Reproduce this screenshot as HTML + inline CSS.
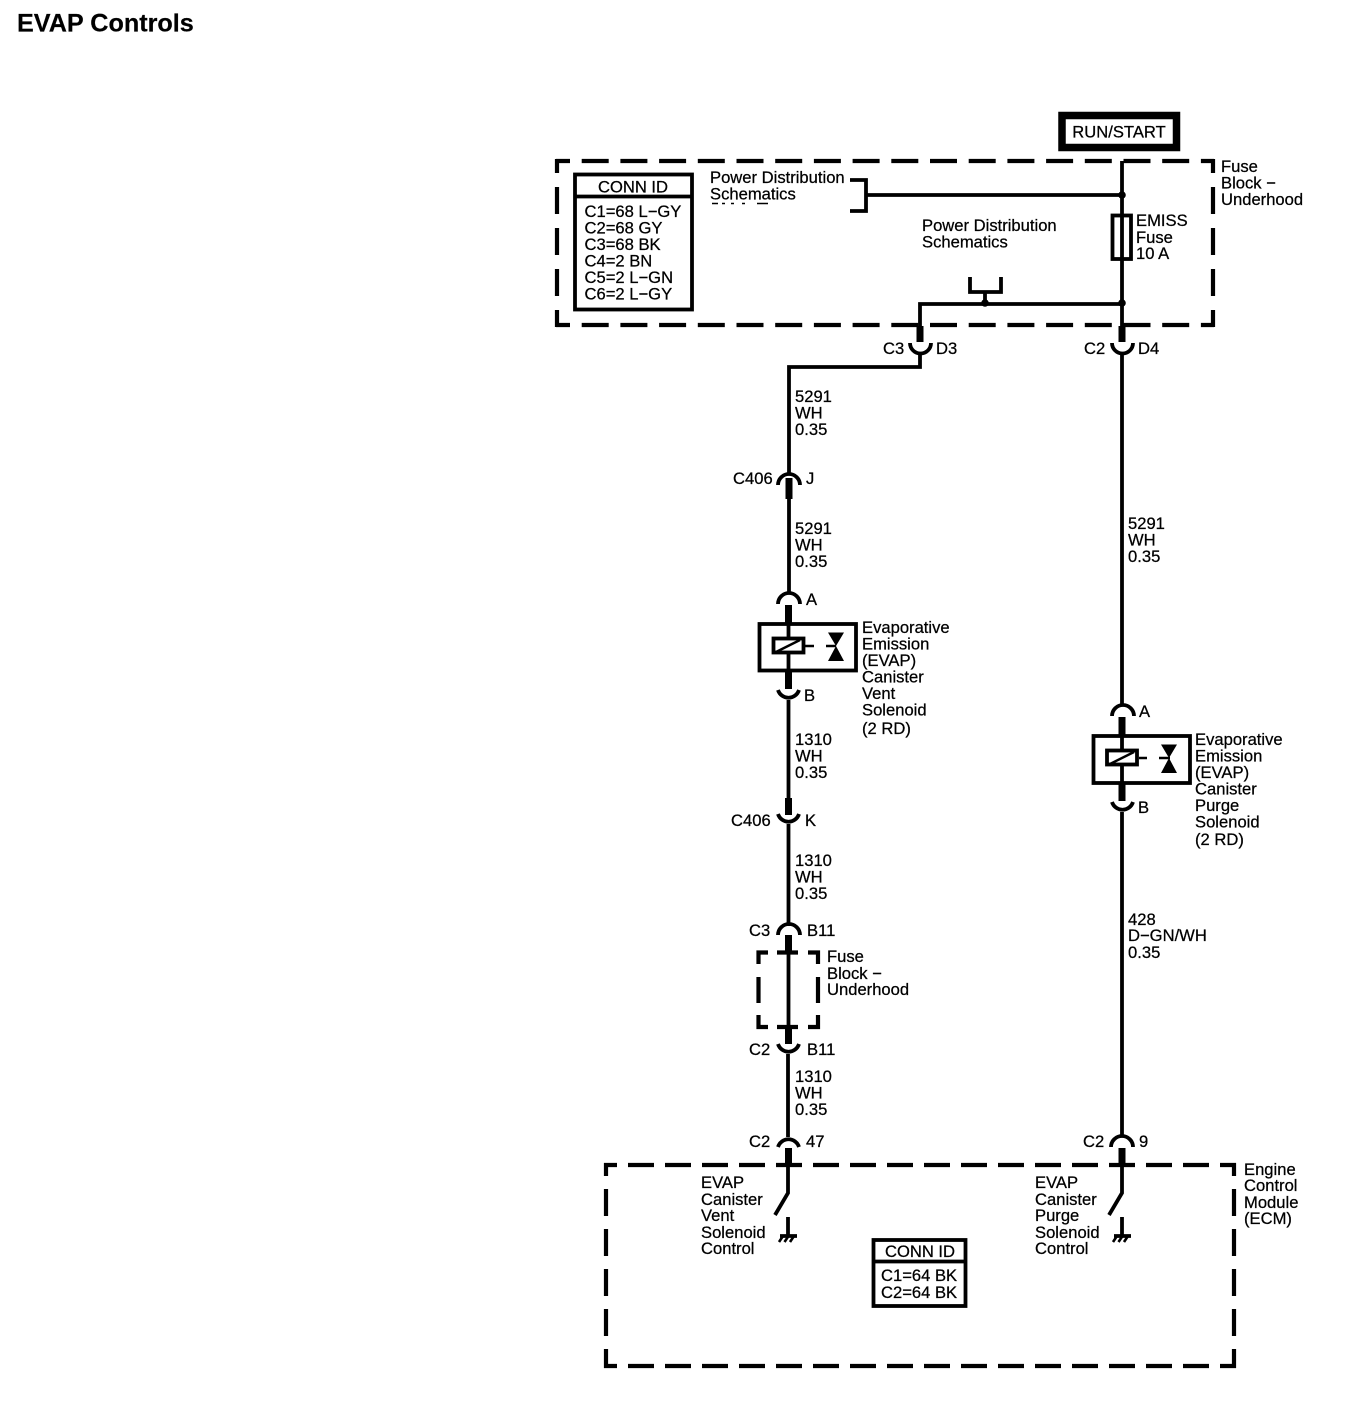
<!DOCTYPE html>
<html><head><meta charset="utf-8"><title>EVAP Controls</title>
<style>
html,body{margin:0;padding:0;background:#fff;width:1352px;height:1408px;overflow:hidden}
svg{display:block}
text{font-family:"Liberation Sans",sans-serif;font-size:16.6px;fill:#000;stroke:#000;stroke-width:.25}
.l{fill:none;stroke:#000;stroke-width:3.8}
.t{fill:none;stroke:#000;stroke-width:7}
.d{fill:none;stroke:#000;stroke-width:4.2}
</style></head><body>
<svg width="1352" height="1408" viewBox="0 0 1352 1408" xmlns="http://www.w3.org/2000/svg">
<text x="17" y="31.500" style="font-size:25.200px;font-weight:bold;stroke-width:.2">EVAP Controls</text>

<!-- fuse block dashed -->
<path class="d" stroke-dasharray="27 11.7" stroke-dashoffset="13" d="M556 161H1214"/>
<path class="d" stroke-dasharray="27 11.7" stroke-dashoffset="13" d="M556 325H1214"/>
<path class="d" stroke-dasharray="27 14" stroke-dashoffset="13" d="M557 159V327"/>
<path class="d" stroke-dasharray="27 14" stroke-dashoffset="13" d="M1213 159V327"/>

<!-- RUN/START -->
<rect x="1062" y="115.500" width="114.500" height="32" fill="#fff" stroke="#000" stroke-width="7.500"/>
<text x="1119" y="137.500" text-anchor="middle">RUN/START</text>

<!-- conn id -->
<rect x="575" y="174.500" width="117" height="135" class="l"/>
<path class="l" d="M575 196.500H692"/>
<text x="633" y="192.500" text-anchor="middle">CONN ID</text>
<text x="584.500" y="217">C1=68 L−GY</text>
<text x="584.500" y="233.500">C2=68 GY</text>
<text x="584.500" y="250">C3=68 BK</text>
<text x="584.500" y="266.500">C4=2 BN</text>
<text x="584.500" y="283">C5=2 L−GN</text>
<text x="584.500" y="299.500">C6=2 L−GY</text>

<text x="710" y="183">Power Distribution</text>
<text x="710" y="199.500">Schematics</text>
<path d="M712 203.500h6M722 203.500h3M731 203.500h3M742 203.500h3M757 203.500h11" stroke="#000" stroke-width="1.500" fill="none"/>
<path class="l" d="M850 180H866V211H850M866 195H1122"/>
<circle cx="1122" cy="195" r="3.800"/>

<!-- main feed -->
<path class="l" d="M1122 161V326"/>
<rect x="1112.500" y="215.500" width="18.500" height="43.500" fill="#fff" stroke="#000" stroke-width="3.800"/>
<path class="l" d="M1122 215V260"/>
<text x="1136" y="226">EMISS</text><text x="1136" y="243">Fuse</text><text x="1136" y="259">10 A</text>
<text x="1221" y="172">Fuse</text><text x="1221" y="188.500">Block −</text><text x="1221" y="205">Underhood</text>
<text x="922" y="231">Power Distribution</text><text x="922" y="247.500">Schematics</text>
<path class="l" d="M970 277V292H1001V277M985 292V304M920 326V304H1122"/>
<circle cx="985" cy="303" r="3.800"/><circle cx="1122" cy="303" r="3.800"/>

<!-- connectors top -->
<path class="t" d="M920 326V342M1122 326V342"/>
<path class="l" d="M910 343A10.500 10.500 0 0 0 931 343M1112 343A10.500 10.500 0 0 0 1133 343"/>
<path class="l" d="M920 353V367H789V473M1122 353V706"/>
<text x="883" y="354">C3</text><text x="936" y="354">D3</text>
<text x="1084" y="354">C2</text><text x="1138" y="354">D4</text>

<!-- left wire -->
<text x="795" y="402">5291</text><text x="795" y="418.500">WH</text><text x="795" y="435">0.35</text>
<path class="l" d="M778 485A11 11 0 0 1 800 485"/>
<path class="t" d="M789 478V499"/>
<text x="733" y="484">C406</text><text x="806" y="484">J</text>
<path class="l" d="M789 499V594"/>
<text x="795" y="534">5291</text><text x="795" y="550.500">WH</text><text x="795" y="567">0.35</text>
<path class="l" d="M778 604A11 11 0 0 1 800 604"/>
<text x="806" y="605">A</text>

<!-- left solenoid -->
<path class="t" d="M788.500 605V624M788.500 670V689"/>
<path class="l" d="M788.500 624V670"/>
<rect x="759.500" y="624" width="96.500" height="46.500" class="l"/>
<rect x="773.500" y="638.500" width="30" height="14" fill="#fff" stroke="#000" stroke-width="3.800"/>
<path d="M776 652L800 640" stroke="#000" stroke-width="2.400"/>
<path class="l" d="M805 646H814M826 646H836" style="stroke-width:2.600"/>
<path d="M828 632.500H844L836 646L844 661H828L836 646Z"/>
<path class="l" d="M778 690A11 11 0 0 0 799 690"/>
<text x="804" y="701">B</text>
<text x="862" y="633">Evaporative</text><text x="862" y="649.500">Emission</text><text x="862" y="666">(EVAP)</text><text x="862" y="682.500">Canister</text><text x="862" y="699">Vent</text><text x="862" y="715.500">Solenoid</text><text x="862" y="734">(2 RD)</text>

<path class="l" d="M788.500 700V799"/>
<text x="795" y="745">1310</text><text x="795" y="761.500">WH</text><text x="795" y="778">0.35</text>
<path class="t" d="M788.500 798V815"/>
<path class="l" d="M778 814A11 11 0 0 0 799 814M788.500 824V926"/>
<text x="731" y="826">C406</text><text x="805" y="826">K</text>
<text x="795" y="866">1310</text><text x="795" y="882.500">WH</text><text x="795" y="899">0.35</text>
<path class="l" d="M778 935A11 11 0 0 1 800 935"/>
<text x="749" y="936">C3</text><text x="807" y="936">B11</text>

<!-- small dashed box -->
<path class="d" d="M758.500 964V952.500H768M777 952.500H798M808 952.500H818V964M758.500 977V1003M818 977V1003M758.500 1015V1027H768M777 1027H798M808 1027H818V1015"/>
<path class="t" d="M788.500 935V952M788.500 1027V1044"/>
<path class="l" d="M788.500 952V1027"/>
<text x="827" y="962">Fuse</text><text x="827" y="979">Block −</text><text x="827" y="995">Underhood</text>
<path class="l" d="M778 1044A11 11 0 0 0 799 1044M788 1054V1137"/>
<text x="749" y="1055">C2</text><text x="807" y="1055">B11</text>
<text x="795" y="1082">1310</text><text x="795" y="1098.500">WH</text><text x="795" y="1115">0.35</text>
<path class="l" d="M778 1147A11 11 0 0 1 799 1147"/>
<text x="749" y="1147">C2</text><text x="806" y="1147">47</text>

<!-- right wire -->
<text x="1128" y="529">5291</text><text x="1128" y="545.500">WH</text><text x="1128" y="562">0.35</text>
<path class="l" d="M1112 716A11 11 0 0 1 1134 716"/>
<text x="1139" y="717">A</text>
<path class="t" d="M1122 717V736M1122 782V801"/>
<path class="l" d="M1122 736V782"/>
<rect x="1093.500" y="736" width="96.500" height="47" class="l"/>
<rect x="1107" y="750.500" width="30" height="14" fill="#fff" stroke="#000" stroke-width="3.800"/>
<path d="M1110 764L1134 752" stroke="#000" stroke-width="2.400"/>
<path class="l" d="M1139 758H1147M1159 758H1170" style="stroke-width:2.600"/>
<path d="M1161 744.500H1177L1169 758L1177 773H1161L1169 758Z"/>
<path class="l" d="M1112 802A11 11 0 0 0 1133 802M1122 812V1137"/>
<text x="1138" y="813">B</text>
<text x="1195" y="745">Evaporative</text><text x="1195" y="761.500">Emission</text><text x="1195" y="778">(EVAP)</text><text x="1195" y="794.500">Canister</text><text x="1195" y="811">Purge</text><text x="1195" y="827.500">Solenoid</text><text x="1195" y="845">(2 RD)</text>
<text x="1128" y="925">428</text><text x="1128" y="941">D−GN/WH</text><text x="1128" y="958">0.35</text>
<path class="l" d="M1111 1147A11 11 0 0 1 1133 1147"/>
<text x="1083" y="1147">C2</text><text x="1139" y="1147">9</text>

<!-- ECM -->
<path class="d" stroke-dasharray="26 11" stroke-dashoffset="13" d="M604 1165H1236"/>
<path class="d" stroke-dasharray="26 11" stroke-dashoffset="13" d="M604 1366H1236"/>
<path class="d" stroke-dasharray="27 13" stroke-dashoffset="14" d="M606 1163V1368"/>
<path class="d" stroke-dasharray="27 13" stroke-dashoffset="14" d="M1234 1163V1368"/>
<path class="t" d="M788.500 1148V1166M1122 1148V1166"/>
<path class="l" d="M788 1166V1193L775 1215M1122 1166V1193L1109 1215"/>
<path class="l" d="M788 1217V1236M780 1236H797M1122 1217V1236M1114 1236H1131"/>
<path d="M783 1236L779 1242M788.500 1236L784.500 1242M794 1236L790 1242M1117 1236L1113 1242M1122.500 1236L1118.500 1242M1128 1236L1124 1242" stroke="#000" stroke-width="2.600" fill="none"/>
<text x="701" y="1188">EVAP</text><text x="701" y="1205">Canister</text><text x="701" y="1221">Vent</text><text x="701" y="1238">Solenoid</text><text x="701" y="1254">Control</text>
<text x="1035" y="1188">EVAP</text><text x="1035" y="1205">Canister</text><text x="1035" y="1221">Purge</text><text x="1035" y="1238">Solenoid</text><text x="1035" y="1254">Control</text>
<text x="1244" y="1175">Engine</text><text x="1244" y="1191">Control</text><text x="1244" y="1208">Module</text><text x="1244" y="1224">(ECM)</text>
<rect x="873.500" y="1240" width="92" height="66" class="l"/>
<path class="l" d="M873 1261.500H966"/>
<text x="920" y="1257" text-anchor="middle">CONN ID</text>
<text x="881" y="1281">C1=64 BK</text><text x="881" y="1298">C2=64 BK</text>
</svg>
</body></html>
